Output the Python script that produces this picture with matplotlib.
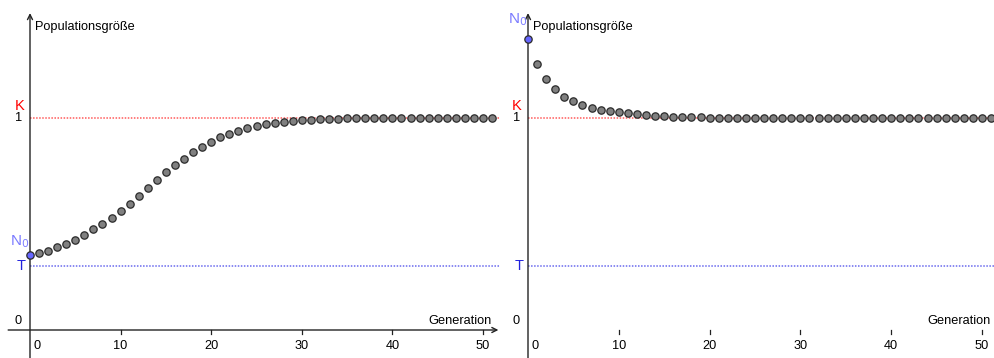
import matplotlib
matplotlib.use("Agg")
import matplotlib.pyplot as plt

# Population per generation: Allee-effect growth from below and decline from above
generations = list(range(52))
growth_values = [0.354, 0.365, 0.374, 0.390, 0.406, 0.425, 0.448, 0.475, 0.499, 0.530,
                 0.563, 0.596, 0.632, 0.670, 0.708, 0.744, 0.777, 0.808, 0.838, 0.865,
                 0.888, 0.909, 0.926, 0.939, 0.951, 0.962, 0.970, 0.976, 0.981, 0.986,
                 0.989, 0.992, 0.994, 0.995, 0.997, 0.998, 0.999] + [1.0] * 15
decline_values = [1.371, 1.253, 1.183, 1.135, 1.101, 1.079, 1.060, 1.047, 1.038, 1.032,
                  1.027, 1.022, 1.017, 1.013, 1.009, 1.008, 1.006, 1.005, 1.004, 1.003,
                  1.002, 1.001] + [1.0] * 30
capacity_K = 1.0
threshold_T = 0.30
x_ticks = [0, 10, 20, 30, 40, 50]

FONT = "Liberation Sans"
RED = "#ff0000"
BLUE = "#2222dd"
LIGHT_BLUE = "#7b7bff"
fs = 9.2

fig = plt.figure(figsize=(9.95, 3.58), dpi=100)

# axes geometry in figure pixels: (left, width, pixel of x=0, pixels per generation)
panels = [
    (0, 500, 30, 9.06, growth_values, -0.005),
    (505, 490, 528, 9.08, decline_values, 0.025),
]
Y0_PX, Y_SCALE, H = 330, 212.0, 358

for left, width, x0px, xs, values, n0_dy in panels:
    ax = fig.add_axes([left / 995, 0, width / 995, 1])
    xmin = (left - x0px) / xs
    xmax = (left + width - x0px) / xs
    ymin = -(H - Y0_PX) / Y_SCALE
    ymax = Y0_PX / Y_SCALE
    ax.set_xlim(xmin, xmax)
    ax.set_ylim(ymin, ymax)
    ax.axis("off")

    # coordinate axes with open arrow heads
    ax.annotate("", xy=(51.7, 0), xytext=(xmin + 0.9, 0),
                arrowprops=dict(arrowstyle="->", color="#222222", lw=1.0,
                                shrinkA=0, shrinkB=0, mutation_scale=9))
    ax.annotate("", xy=(0, 1.495), xytext=(0, ymin),
                arrowprops=dict(arrowstyle="->", color="#222222", lw=1.0,
                                shrinkA=0, shrinkB=0, mutation_scale=9))

    # tick marks and labels
    for t in x_ticks:
        if t:
            ax.plot([t, t], [0, -0.018], color="#222222", lw=0.9)
            ax.text(t, -0.045, str(t), ha="center", va="top", fontsize=fs, family=FONT)
        else:
            ax.text(0.8, -0.045, "0", ha="center", va="top", fontsize=fs, family=FONT)
    ax.text(-1.3, 0.015, "0", ha="center", va="bottom", fontsize=fs, family=FONT)
    ax.text(-1.3, capacity_K, "1", ha="center", va="center", fontsize=fs, family=FONT)

    ax.text(51.0, 0.012, "Generation", ha="right", va="bottom", fontsize=fs, family=FONT)
    ax.text(0.5, 1.43, "Populationsgröße", ha="left", va="center", fontsize=fs, family=FONT)

    # carrying capacity and threshold lines
    ax.plot([0, xmax], [capacity_K, capacity_K], color="#ff5a5a", lw=1.1, ls=(0, (1, 1)))
    ax.plot([0, xmax], [threshold_T, threshold_T], color="#6a6aee", lw=1.1, ls=(0, (1, 1)))
    ax.text(-1.2, capacity_K + 0.025, "K", color=RED, ha="center", va="bottom",
            fontsize=10.5, family=FONT)
    ax.text(-1.0, threshold_T, "T", color=BLUE, ha="center", va="center",
            fontsize=10.5, family=FONT)

    # population points
    ax.scatter(generations[1:], values[1:], s=28, color="#808080",
               edgecolor="#2a2a2a", linewidths=0.9, zorder=5)
    ax.scatter([generations[0]], [values[0]], s=28, color="#6666ff",
               edgecolor="#2a2a2a", linewidths=0.9, zorder=6)
    ax.text(-1.1, values[0] + 0.03 + n0_dy, r"N$_0$", color=LIGHT_BLUE, ha="center",
            va="bottom", fontsize=11, family=FONT)

fig.savefig("out.png", dpi=100)
